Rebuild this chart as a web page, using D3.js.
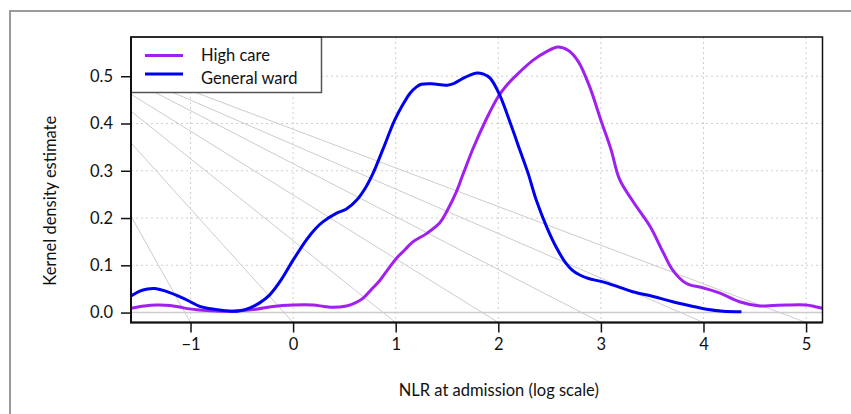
<!DOCTYPE html>
<html>
<head>
<meta charset="utf-8">
<script src="https://cdn.jsdelivr.net/npm/d3@7"></script>
<style>
  html, body { margin: 0; padding: 0; background: #fff; }
  svg { display: block; }
  text { font-family: Lato, "Open Sans", sans-serif; fill: #111; }
</style>
</head>
<body>
<svg id="chart" width="851" height="414"></svg>
<script>
// Kernel density of log NLR at admission, by care setting
const generalWardNlr = [-1.58, -1.50, -1.42, -1.35, -1.25, -1.14, -1.02, -0.91, -0.80, -0.70, -0.60, -0.52, -0.42, -0.33, -0.23, -0.12, 0.0, 0.13, 0.22, 0.29, 0.42, 0.52, 0.62, 0.70, 0.78, 0.88, 0.99, 1.07, 1.14, 1.20, 1.25, 1.35, 1.50, 1.57, 1.66, 1.73, 1.79, 1.85, 1.92, 2.01, 2.13, 2.21, 2.29, 2.37, 2.47, 2.57, 2.66, 2.72, 2.79, 2.88, 3.0, 3.15, 3.31, 3.51, 3.70, 3.90, 4.03, 4.19, 4.37];
const generalWardDensity = [0.035, 0.045, 0.050, 0.051, 0.046, 0.037, 0.025, 0.013, 0.008, 0.005, 0.003, 0.004, 0.010, 0.020, 0.037, 0.068, 0.111, 0.154, 0.178, 0.192, 0.210, 0.219, 0.238, 0.262, 0.295, 0.348, 0.407, 0.440, 0.464, 0.477, 0.483, 0.484, 0.481, 0.485, 0.496, 0.503, 0.507, 0.505, 0.496, 0.462, 0.393, 0.344, 0.295, 0.238, 0.182, 0.136, 0.104, 0.090, 0.080, 0.072, 0.066, 0.056, 0.044, 0.034, 0.023, 0.013, 0.007, 0.003, 0.002];

const highCareNlr = [-1.58, -1.45, -1.33, -1.20, -1.07, -0.94, -0.81, -0.59, -0.36, -0.195, 0.0, 0.195, 0.30, 0.39, 0.52, 0.60, 0.68, 0.76, 0.845, 0.93, 1.008, 1.09, 1.17, 1.30, 1.43, 1.50, 1.59, 1.657, 1.75, 1.885, 2.0, 2.09, 2.18, 2.34, 2.47, 2.58, 2.68, 2.78, 2.89, 3.0, 3.10, 3.18, 3.31, 3.48, 3.61, 3.70, 3.83, 4.0, 4.16, 4.35, 4.55, 4.68, 4.81, 5.0, 5.08, 5.16];
const highCareDensity = [0.009, 0.014, 0.016, 0.015, 0.010, 0.006, 0.004, 0.003, 0.007, 0.013, 0.016, 0.016, 0.013, 0.011, 0.014, 0.020, 0.030, 0.048, 0.068, 0.093, 0.115, 0.133, 0.150, 0.167, 0.190, 0.215, 0.255, 0.293, 0.345, 0.410, 0.457, 0.483, 0.503, 0.534, 0.552, 0.562, 0.555, 0.531, 0.478, 0.407, 0.344, 0.283, 0.236, 0.182, 0.126, 0.090, 0.062, 0.052, 0.041, 0.023, 0.014, 0.015, 0.016, 0.016, 0.013, 0.009];

const seriesNames = ["High care", "General ward"];
const xTickValues = [-1, 0, 1, 2, 3, 4, 5];
const yTickValues = [0.0, 0.1, 0.2, 0.3, 0.4, 0.5];
// Height at the left edge where each grey guide ray enters, one per x tick
const guideStartDensity = [0.204, 0.359, 0.426, 0.462, 0.492, 0.504, 0.517];

const xDomain = [-1.58, 5.16];
const yDomain = [-0.021, 0.583];
const plot = { left: 131, right: 822.5, top: 37, bottom: 322.5 };
const fontSize = 16.5;

const svg = d3.select("#chart");
const x = d3.scaleLinear().domain(xDomain).range([plot.left, plot.right]);
const y = d3.scaleLinear().domain(yDomain).range([plot.bottom, plot.top]);

// outer panel frame (top and left edges)
svg.append("path")
  .attr("d", "M10,414 L10,11 L851,11")
  .attr("fill", "none").attr("stroke", "#9a9a9a").attr("stroke-width", 2);

svg.append("clipPath").attr("id", "plotClip")
  .append("rect")
  .attr("x", plot.left).attr("y", plot.top)
  .attr("width", plot.right - plot.left).attr("height", plot.bottom - plot.top);

const inner = svg.append("g").attr("clip-path", "url(#plotClip)");

// dotted grid
inner.append("g").selectAll("line").data(xTickValues).join("line")
  .attr("x1", d => x(d)).attr("x2", d => x(d))
  .attr("y1", plot.top).attr("y2", plot.bottom)
  .attr("stroke", "#cfcfcf").attr("stroke-width", 1).attr("stroke-dasharray", "2,3");
inner.append("g").selectAll("line").data(yTickValues.filter(v => v > 0)).join("line")
  .attr("x1", plot.left).attr("x2", plot.right)
  .attr("y1", d => y(d)).attr("y2", d => y(d))
  .attr("stroke", "#cfcfcf").attr("stroke-width", 1).attr("stroke-dasharray", "2,3");

// grey guide rays running down to each x tick
inner.append("g").selectAll("line").data(xTickValues).join("line")
  .attr("x1", x(xDomain[0])).attr("y1", (d, i) => y(guideStartDensity[i]))
  .attr("x2", d => x(d)).attr("y2", y(yDomain[0]))
  .attr("stroke", "#cccccc").attr("stroke-width", 1);

// zero density baseline
inner.append("line")
  .attr("x1", plot.left).attr("x2", plot.right)
  .attr("y1", y(0)).attr("y2", y(0))
  .attr("stroke", "#cccccc").attr("stroke-width", 1.5);

const line = d3.line()
  .x(d => x(d[0])).y(d => y(d[1]))
  .curve(d3.curveCatmullRom.alpha(0.5));

const series = [
  { name: seriesNames[0], color: "#a020f0", pts: d3.zip(highCareNlr, highCareDensity) },
  { name: seriesNames[1], color: "#0000f0", pts: d3.zip(generalWardNlr, generalWardDensity) }
];

inner.selectAll("path.kde").data(series).join("path")
  .attr("class", "kde")
  .attr("d", d => line(d.pts))
  .attr("fill", "none")
  .attr("stroke", d => d.color)
  .attr("stroke-width", 3)
  .attr("stroke-linejoin", "round");

// legend
const legend = svg.append("g");
legend.append("rect")
  .attr("x", plot.left).attr("y", plot.top)
  .attr("width", 190.5).attr("height", 55.5)
  .attr("fill", "#fff").attr("stroke", "#555").attr("stroke-width", 1.5);
const items = legend.selectAll("g.item").data(series).join("g")
  .attr("class", "item")
  .attr("transform", (d, i) => `translate(${plot.left}, ${plot.top + 18.5 + i * 18.5})`);
items.append("line")
  .attr("x1", 14).attr("x2", 52).attr("y1", 0).attr("y2", 0)
  .attr("stroke", d => d.color).attr("stroke-width", 3);
items.append("text")
  .attr("x", 70).attr("y", (d, i) => 5 + i * 5)
  .attr("font-size", fontSize)
  .text(d => d.name);

// axes
const xAxis = d3.axisBottom(x).tickValues(xTickValues).tickSize(10).tickPadding(6)
  .tickFormat(d3.format("d"));
const gx = svg.append("g").attr("transform", `translate(0,${plot.bottom})`).call(xAxis);
gx.select(".domain").remove();
gx.selectAll(".tick line").attr("stroke", "#111").attr("stroke-width", 1.5);
gx.selectAll(".tick text").attr("font-size", fontSize).attr("font-family", "Lato, sans-serif").attr("fill", "#111");

const yAxis = d3.axisLeft(y).tickValues(yTickValues).tickSize(10).tickPadding(8)
  .tickFormat(d3.format(".1f"));
const gy = svg.append("g").attr("transform", `translate(${plot.left},0)`).call(yAxis);
gy.select(".domain").remove();
gy.selectAll(".tick line").attr("stroke", "#111").attr("stroke-width", 1.5);
gy.selectAll(".tick text").attr("font-size", fontSize).attr("font-family", "Lato, sans-serif").attr("fill", "#111");

// plot box
svg.append("rect")
  .attr("x", plot.left).attr("y", plot.top)
  .attr("width", plot.right - plot.left).attr("height", plot.bottom - plot.top)
  .attr("fill", "none").attr("stroke", "#111").attr("stroke-width", 1.5);
svg.append("path")
  .attr("d", `M${plot.left},${plot.top} V${plot.bottom} H${plot.right}`)
  .attr("fill", "none").attr("stroke", "#111").attr("stroke-width", 2);

// axis titles
svg.append("text")
  .attr("x", (plot.left + plot.right) / 2 + 22).attr("y", 396)
  .attr("text-anchor", "middle").attr("font-size", fontSize)
  .text("NLR at admission (log scale)");
svg.append("text")
  .attr("transform", `translate(56, ${(plot.top + plot.bottom) / 2 + 21}) rotate(-90)`)
  .attr("text-anchor", "middle").attr("font-size", fontSize)
  .text("Kernel density estimate");
</script>
</body>
</html>
